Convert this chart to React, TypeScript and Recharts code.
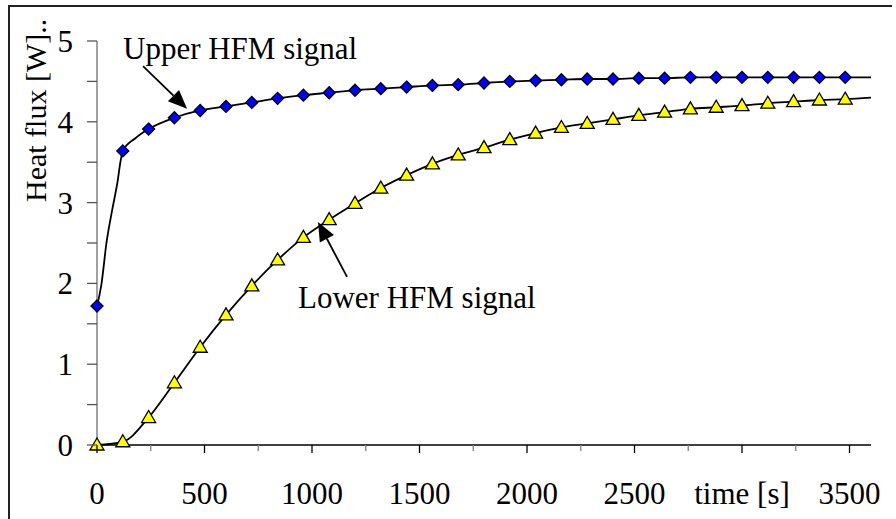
import { LineChart, Line, XAxis, YAxis, ReferenceLine, ReferenceDot } from 'recharts';

// sample times that carry a marker (s)
const markerTimes = [
  0, 120, 240, 360, 480, 600, 720, 840, 960, 1080, 1200, 1320, 1440, 1560, 1680,
  1800, 1920, 2040, 2160, 2280, 2400, 2520, 2640, 2760, 2880, 3000, 3120, 3240, 3360, 3480,
];

const upperValues = [
  1.72, 3.64, 3.91, 4.05, 4.14, 4.19, 4.24, 4.29, 4.33, 4.36, 4.39, 4.41, 4.43, 4.45, 4.46,
  4.48, 4.5, 4.51, 4.52, 4.53, 4.53, 4.54, 4.54, 4.55, 4.55, 4.55, 4.55, 4.55, 4.55, 4.55,
];

const lowerValues = [
  0, 0.04, 0.34, 0.77, 1.21, 1.61, 1.97, 2.29, 2.57, 2.79, 2.99, 3.18, 3.34, 3.48, 3.59,
  3.68, 3.78, 3.86, 3.93, 3.98, 4.03, 4.08, 4.12, 4.16, 4.18, 4.2, 4.23, 4.25, 4.27, 4.28,
];

// points of the curve without a marker
const upperCurveTimes = [20, 45, 70, 95, 110, 180, 3600];
const upperCurveValues = [1.98, 2.52, 2.9, 3.25, 3.52, 3.8, 4.55];
const lowerCurveTimes = [3600];
const lowerCurveValues = [4.3];

const xTicks = [0, 250, 500, 750, 1000, 1250, 1500, 1750, 2000, 2250, 2500, 2750, 3000, 3250, 3500];
const yTicks = [0, 0.5, 1, 1.5, 2, 2.5, 3, 3.5, 4, 4.5, 5];

const FONT = '"Liberation Serif", "Times New Roman", serif';

type Pt = { t: number; v: number; mark: boolean };

function buildSeries(values: number[], curveT: number[], curveV: number[]): Pt[] {
  const pts: Pt[] = markerTimes.map((t, i) => ({ t, v: values[i], mark: true }));
  curveT.forEach((t, i) => pts.push({ t, v: curveV[i], mark: false }));
  return pts.sort((a, b) => a.t - b.t);
}

const upperData = buildSeries(upperValues, upperCurveTimes, upperCurveValues);
const lowerData = buildSeries(lowerValues, lowerCurveTimes, lowerCurveValues);

function XTick(props: any) {
  const { x, y, payload } = props;
  const v = payload.value;
  const major = v % 500 === 0;
  return (
    <g>
      <line x1={x} y1={y} x2={x} y2={y + (major ? 8 : 6)} stroke={major ? '#000' : '#808080'} strokeWidth={1.3} />
      {major && (
        <text x={x} y={y + 59} textAnchor="middle" fontFamily={FONT} fontSize={31} fill="#000">
          {v === 3000 ? 'time [s]' : v}
        </text>
      )}
    </g>
  );
}

function YTick(props: any) {
  const { x, y, payload } = props;
  const v = payload.value;
  const major = Number.isInteger(v);
  return (
    <g>
      <line x1={x - 10} y1={y} x2={x} y2={y} stroke="#555" strokeWidth={1.3} />
      {major && (
        <text x={x - 24} y={y + 11} textAnchor="end" fontFamily={FONT} fontSize={31} fill="#000">
          {v}
        </text>
      )}
    </g>
  );
}

function Diamond(props: any) {
  const { cx, cy, payload, index } = props;
  if (!payload.mark || cx == null) return <g key={'u' + index} />;
  const r = 6;
  return (
    <polygon
      key={'u' + index}
      points={`${cx},${cy - r} ${cx + r},${cy} ${cx},${cy + r} ${cx - r},${cy}`}
      fill="#0000ff"
      stroke="#000"
      strokeWidth={1.3}
    />
  );
}

function Triangle(props: any) {
  const { cx, cy, payload, index } = props;
  if (!payload.mark || cx == null) return <g key={'l' + index} />;
  const w = 7;
  return (
    <polygon
      key={'l' + index}
      points={`${cx},${cy - 7} ${cx + w},${cy + 5} ${cx - w},${cy + 5}`}
      fill="#ffff00"
      stroke="#000"
      strokeWidth={1.3}
    />
  );
}

function Arrow(props: any) {
  const { x1, y1, x2, y2 } = props;
  const dx = x2 - x1;
  const dy = y2 - y1;
  const len = Math.sqrt(dx * dx + dy * dy);
  const ux = dx / len;
  const uy = dy / len;
  const head = 19;
  const half = 8;
  const bx = x2 - ux * head;
  const by = y2 - uy * head;
  return (
    <g>
      <line x1={x1} y1={y1} x2={bx} y2={by} stroke="#000" strokeWidth={1.8} />
      <polygon
        points={`${x2},${y2} ${bx - uy * half},${by + ux * half} ${bx + uy * half},${by - ux * half}`}
        fill="#000"
      />
    </g>
  );
}

function note(text: string) {
  return (props: any) => (
    <text x={props.cx} y={props.cy} fontFamily={FONT} fontSize={31} fill="#000">
      {text}
    </text>
  );
}

export default function App() {
  return (
    <div style={{ position: 'absolute', left: 0, top: 0, width: 896, height: 519, background: '#fff', overflow: 'hidden' }}>
      <div
        style={{
          position: 'absolute',
          left: 8,
          top: 5,
          width: 882,
          height: 530,
          borderTop: '2px solid #222',
          borderLeft: '2px solid #222',
        }}
      />
      <div style={{ position: 'absolute', left: 0, top: 0 }}>
        <LineChart width={896} height={519} margin={{ top: 41, right: 25, left: 37, bottom: 24 }}>
          <XAxis
            type="number"
            dataKey="t"
            domain={[0, 3600]}
            ticks={xTicks}
            interval={0}
            tickSize={0}
            tickMargin={0}
            tickLine={false}
            tick={<XTick />}
            axisLine={{ stroke: '#000', strokeWidth: 1.5 }}
            height={50}
          />
          <YAxis
            type="number"
            domain={[0, 5]}
            ticks={yTicks}
            interval={0}
            tickSize={0}
            tickMargin={0}
            tickLine={false}
            tick={<YTick />}
            axisLine={{ stroke: '#808080', strokeWidth: 1.5 }}
            width={60}
            label={{
              content: () => (
                <text
                  x={46}
                  y={202}
                  transform="rotate(-90, 46, 202)"
                  fontFamily={FONT}
                  fontSize={30}
                  fill="#000"
                >
                  Heat flux [W]..
                </text>
              ),
            }}
          />
          <Line
            data={upperData}
            dataKey="v"
            type="monotone"
            stroke="#000"
            strokeWidth={1.8}
            dot={Diamond}
            activeDot={false}
            isAnimationActive={false}
          />
          <Line
            data={lowerData}
            dataKey="v"
            type="monotone"
            stroke="#000"
            strokeWidth={1.8}
            dot={Triangle}
            activeDot={false}
            isAnimationActive={false}
          />
          <ReferenceLine segment={[{ x: 214, y: 4.69 }, { x: 419, y: 4.16 }]} shape={Arrow} />
          <ReferenceLine segment={[{ x: 1163, y: 2.08 }, { x: 1028, y: 2.76 }]} shape={Arrow} />
          <ReferenceDot x={121} y={4.78} r={0} shape={note('Upper HFM signal')} />
          <ReferenceDot x={935} y={1.7} r={0} shape={note('Lower HFM signal')} />
        </LineChart>
      </div>
    </div>
  );
}
